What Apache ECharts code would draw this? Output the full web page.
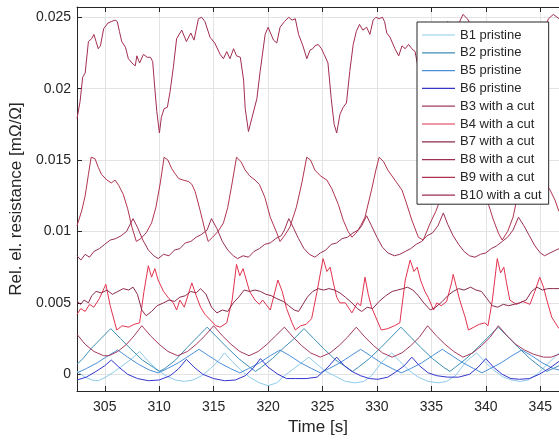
<!DOCTYPE html>
<html>
<head>
<meta charset="utf-8">
<script src="https://cdn.jsdelivr.net/npm/echarts@6/dist/echarts.min.js"></script>
<style>
  html, body { margin: 0; padding: 0; background: #fff; }
  #chart { width: 559px; height: 443px; }
</style>
</head>
<body>
<div id="chart"></div>
<script>
// readings: [time s, rel. resistance mOhm/Ohm]
const b1 = [[302.45,0.0002],[303.2,-0.0002],[303.8,-0.0004],[304.4,-0.00045],[305.1,-0.0002],[305.9,0.0002],[306.8,0.0007],[307.5,0.0011],[308.2,0.0016],[308.9,0.0010],[309.7,0.0004],[310.6,-0.0001],[311.5,-0.0004],[312.3,-0.0005],[313.1,-0.0004],[313.9,-0.0001],[314.7,0.0004],[315.4,0.0009],[316.0,0.0015],[316.7,0.0009],[317.5,0.0003],[318.3,-0.0002],[319.2,-0.0006],[320.0,-0.0008],[320.8,-0.0006],[321.5,-0.0001],[322.2,0.0003],[322.9,0.0007],[323.75,0.0012],[324.5,0.0007],[325.3,0.0002],[326.1,-0.0001],[327.1,-0.0005],[328.0,-0.0006],[328.8,-0.0005],[329.5,-0.0001],[330.4,0.0008],[331.35,0.0015],[332.1,0.0009],[332.9,0.0003],[333.8,-0.0002],[334.7,-0.0005],[335.6,-0.0006],[336.4,-0.0005],[337.2,-0.0001],[338.2,0.0009],[339.15,0.0015],[339.9,0.0009],[340.7,0.0003],[341.6,-0.0002],[342.4,-0.0004],[343.15,-0.0005],[343.9,-0.0004],[344.7,0.0000],[345.5,0.0006],[346.72,0.0015]];

const b2 = [[302.45,0.0007],[303.0,0.0011],[303.75,0.0018],[304.65,0.0025],[305.55,0.0032],[306.45,0.0025],[307.35,0.0018],[308.45,0.0010],[309.45,0.0005],[310.0,0.0002],[310.5,0.0004],[311.5,0.0010],[312.6,0.0019],[313.5,0.0026],[314.4,0.0033],[315.3,0.0026],[316.2,0.0019],[317.3,0.0011],[318.3,0.0005],[318.85,0.0002],[319.4,0.0005],[320.4,0.0011],[321.5,0.0019],[322.4,0.0025],[323.3,0.0032],[324.2,0.0025],[325.1,0.0018],[326.2,0.0010],[327.2,0.0005],[327.75,0.0002],[328.3,0.0005],[329.3,0.0011],[330.4,0.0019],[331.3,0.0026],[332.2,0.0033],[333.1,0.0026],[334.0,0.0019],[335.1,0.0011],[336.1,0.0005],[336.7,0.0002],[337.2,0.0005],[338.2,0.0011],[339.3,0.0019],[340.2,0.0026],[341.15,0.0033],[342.05,0.0026],[342.95,0.0019],[344.05,0.0011],[345.05,0.0005],[345.6,0.0002],[346.72,0.0006]];

const b5 = [[302.45,0.0001],[303.3,0.0004],[304.3,0.0008],[305.3,0.0013],[306.2,0.0017],[307.1,0.0012],[308.1,0.0007],[309.1,0.0003],[309.9,0.0001],[310.75,0.0004],[311.75,0.0008],[312.75,0.0013],[313.65,0.00175],[314.55,0.0013],[315.55,0.0008],[316.55,0.0004],[317.4,0.0001],[318.2,0.0004],[319.2,0.0008],[320.2,0.0013],[321.1,0.0017],[322.0,0.0013],[323.0,0.0008],[324.0,0.0004],[324.8,0.0001],[325.6,0.0004],[326.6,0.0008],[327.6,0.0013],[328.5,0.00175],[329.4,0.0013],[330.4,0.0008],[331.4,0.0004],[332.25,0.0001],[333.1,0.0004],[334.1,0.0008],[335.1,0.0013],[336.0,0.00175],[336.9,0.0013],[337.9,0.0008],[338.9,0.0004],[339.65,0.0001],[340.4,0.0004],[341.4,0.0008],[342.4,0.0013],[343.3,0.0017],[344.2,0.0013],[345.2,0.0008],[346.2,0.0004],[346.72,0.0003]];

const b6 = [[302.45,-0.0004],[303.3,-0.0002],[304.2,0.0002],[305.0,0.0006],[305.6,0.0010],[306.3,0.0005],[307.1,0.0000],[308.0,-0.0003],[309.0,-0.00045],[310.0,-0.0004],[311.0,-0.0001],[311.8,0.0004],[312.5,0.00105],[313.2,0.0005],[314.0,0.0000],[315.0,-0.0003],[316.0,-0.00045],[317.0,-0.0004],[317.9,-0.0001],[318.6,0.0004],[319.3,0.0011],[320.0,0.0005],[320.9,0.0000],[321.7,-0.0003],[322.5,-0.0003],[323.5,-0.0003],[324.5,-0.0002],[325.5,0.0005],[326.3,0.0012],[327.0,0.0006],[327.7,0.0002],[328.5,-0.0001],[329.3,-0.0003],[330.1,-0.00035],[331.0,-0.0002],[331.8,0.0002],[332.5,0.0006],[333.2,0.0012],[333.9,0.0006],[334.7,0.0001],[335.5,-0.0001],[336.5,-0.0002],[337.5,-0.0002],[338.5,0.0000],[339.3,0.0005],[340.0,0.0011],[340.7,0.0005],[341.5,0.0000],[342.3,-0.0003],[343.1,-0.00035],[344.0,-0.0003],[344.9,0.0000],[345.8,0.0004],[346.72,0.0009]];

const b3 = [[302.45,0.0028],[303.2,0.0021],[304.0,0.0016],[304.9,0.0013],[305.4,0.0013],[306.2,0.0016],[307.0,0.0021],[307.7,0.0027],[308.4,0.0034],[309.2,0.0027],[310.0,0.0021],[310.8,0.0016],[311.7,0.0013],[312.6,0.0016],[313.4,0.0021],[314.2,0.0027],[315.0,0.0034],[315.8,0.0027],[316.6,0.0021],[317.4,0.0016],[318.25,0.0013],[319.1,0.0016],[319.9,0.0021],[320.7,0.0027],[321.5,0.0033],[322.3,0.0026],[323.1,0.0020],[323.9,0.0015],[324.8,0.0012],[325.7,0.0015],[326.5,0.0020],[327.3,0.0026],[328.1,0.0033],[328.9,0.0026],[329.7,0.0020],[330.5,0.0015],[331.4,0.0012],[332.3,0.0015],[333.1,0.0020],[333.9,0.0026],[334.65,0.0034],[335.45,0.0027],[336.25,0.0021],[337.05,0.0016],[337.9,0.0012],[338.8,0.0015],[339.6,0.0020],[340.4,0.0026],[341.15,0.0034],[341.95,0.0027],[342.75,0.0021],[343.55,0.0017],[344.4,0.0014],[345.3,0.0012],[346.0,0.0012],[346.72,0.0014]];

const b4 = [[302.45,0.0042],[302.8,0.0046],[303.2,0.0044],[303.6,0.0049],[304.0,0.0047],[304.5,0.0053],[305.1,0.0063],[305.5,0.0048],[306.1,0.0031],[306.6,0.0034],[307.2,0.0033],[307.7,0.0035],[308.2,0.0036],[308.6,0.0058],[309.0,0.0076],[309.3,0.0068],[309.6,0.0074],[309.9,0.0066],[310.4,0.0058],[310.9,0.0053],[311.3,0.0050],[311.6,0.0045],[311.9,0.0052],[312.3,0.0047],[313.0,0.0064],[313.4,0.0055],[313.8,0.0047],[314.2,0.0042],[314.7,0.0038],[315.2,0.0034],[315.6,0.0033],[316.2,0.0036],[316.7,0.0052],[317.1,0.0077],[317.4,0.0069],[317.7,0.0074],[318.0,0.0066],[318.3,0.0058],[318.8,0.0052],[319.2,0.0049],[319.5,0.0052],[319.8,0.0049],[320.2,0.0045],[320.9,0.0066],[321.3,0.0058],[321.7,0.0046],[322.2,0.0036],[322.5,0.0031],[323.0,0.0034],[323.5,0.0035],[324.0,0.0039],[324.5,0.0058],[325.05,0.0081],[325.4,0.0072],[325.7,0.0075],[326.0,0.0064],[326.3,0.0054],[326.6,0.0050],[327.1,0.0050],[327.7,0.0043],[328.2,0.0050],[328.5,0.0048],[328.9,0.0068],[329.2,0.0056],[329.5,0.0047],[330.0,0.0038],[330.4,0.0031],[331.0,0.0032],[331.6,0.0034],[332.1,0.0036],[332.6,0.0066],[333.05,0.0080],[333.4,0.0072],[333.7,0.0075],[334.0,0.0066],[334.4,0.0058],[334.7,0.0054],[335.2,0.0045],[335.5,0.0050],[335.9,0.0048],[336.4,0.0051],[336.85,0.0064],[337.0,0.0070],[337.3,0.0061],[337.6,0.0052],[338.1,0.0040],[338.4,0.0031],[338.9,0.0033],[339.4,0.0035],[339.9,0.0036],[340.2,0.0034],[340.6,0.0052],[341.05,0.0081],[341.35,0.0071],[341.65,0.0075],[341.9,0.0064],[342.2,0.0052],[342.8,0.0049],[343.4,0.0051],[344.05,0.0049],[344.5,0.0058],[344.95,0.0068],[345.3,0.0061],[345.6,0.0052],[346.05,0.0040],[346.72,0.0032]];

const b7 = [[302.45,0.0051],[302.8,0.0049],[303.1,0.0052],[303.5,0.0050],[303.8,0.0055],[304.2,0.0058],[304.7,0.0057],[305.2,0.0059],[305.7,0.0056],[306.2,0.0058],[306.7,0.0060],[307.2,0.0059],[307.6,0.0061],[308.0,0.0056],[308.4,0.0045],[308.8,0.0041],[309.3,0.0044],[309.8,0.0048],[310.4,0.0050],[310.9,0.0052],[311.4,0.0051],[311.9,0.0054],[312.4,0.0055],[312.9,0.0058],[313.4,0.0057],[313.8,0.0060],[314.3,0.0056],[314.8,0.0047],[315.3,0.0043],[315.8,0.0045],[316.3,0.0044],[316.8,0.0050],[317.3,0.0054],[317.8,0.0059],[318.3,0.0058],[318.8,0.0059],[319.3,0.0058],[319.8,0.0056],[320.3,0.0055],[320.8,0.0053],[321.4,0.0051],[321.9,0.0048],[322.4,0.0045],[322.8,0.0044],[323.2,0.0049],[323.6,0.0054],[324.1,0.0058],[324.6,0.0060],[325.1,0.0059],[325.6,0.0060],[326.1,0.0059],[326.6,0.0057],[327.1,0.0054],[327.7,0.0050],[328.2,0.0046],[328.6,0.0044],[329.1,0.0047],[329.6,0.0046],[330.2,0.0051],[330.8,0.0055],[331.4,0.0058],[331.9,0.0059],[332.4,0.0060],[332.8,0.0061],[333.3,0.0059],[333.8,0.0055],[334.3,0.0050],[334.9,0.0045],[335.4,0.0047],[336.0,0.0051],[336.5,0.0055],[337.0,0.0058],[337.5,0.0060],[338.0,0.0059],[338.6,0.0061],[339.1,0.0059],[339.6,0.0058],[340.1,0.0053],[340.6,0.0048],[341.1,0.0047],[341.6,0.0049],[342.1,0.0048],[342.6,0.0049],[343.1,0.0050],[343.7,0.0052],[344.2,0.0058],[344.7,0.0061],[345.2,0.0059],[345.7,0.0060],[346.2,0.0060],[346.72,0.0060]];

const b8 = [[302.45,0.0083],[302.8,0.0080],[303.2,0.0084],[303.6,0.0082],[304.0,0.0086],[304.5,0.0088],[305.0,0.0091],[305.5,0.0094],[306.0,0.0095],[306.5,0.0097],[307.0,0.0100],[307.6,0.0109],[308.0,0.0103],[308.5,0.0094],[309.0,0.0087],[309.5,0.0083],[309.9,0.0081],[310.4,0.0084],[310.9,0.0083],[311.4,0.0087],[311.9,0.0088],[312.4,0.0092],[312.9,0.0093],[313.4,0.0096],[313.9,0.0098],[314.4,0.0101],[314.8,0.0109],[315.3,0.0102],[315.8,0.0093],[316.3,0.0087],[316.8,0.0083],[317.2,0.0081],[317.7,0.0083],[318.2,0.0082],[318.7,0.0086],[319.2,0.0088],[319.7,0.0091],[320.2,0.0092],[320.7,0.0095],[321.2,0.0097],[321.5,0.0101],[321.9,0.0109],[322.3,0.0103],[322.8,0.0095],[323.3,0.0088],[323.8,0.0084],[324.3,0.0082],[324.8,0.0085],[325.3,0.0087],[325.8,0.0091],[326.3,0.0092],[326.8,0.0095],[327.3,0.0096],[327.8,0.0099],[328.3,0.0101],[328.6,0.0104],[329.05,0.0111],[329.5,0.0104],[330.0,0.0096],[330.5,0.0089],[331.0,0.0085],[331.6,0.0083],[332.1,0.0084],[332.6,0.0086],[333.1,0.0088],[333.6,0.0091],[334.1,0.0093],[334.6,0.0097],[335.1,0.0099],[335.6,0.0104],[336.1,0.0113],[336.5,0.0105],[337.0,0.0097],[337.5,0.0091],[338.0,0.0086],[338.5,0.0083],[339.0,0.0082],[339.5,0.0084],[340.0,0.0085],[340.5,0.0088],[341.0,0.0090],[341.5,0.0093],[342.0,0.0096],[342.5,0.0101],[343.0,0.0110],[343.5,0.0104],[344.0,0.0097],[344.5,0.0090],[345.0,0.0085],[345.4,0.0083],[345.9,0.0085],[346.72,0.0088]];

const b9 = [[302.45,0.0104],[302.9,0.0115],[303.2,0.0125],[303.5,0.0140],[303.75,0.0152],[304.1,0.0151],[304.4,0.0145],[304.7,0.0140],[305.2,0.0136],[305.6,0.0134],[305.95,0.0136],[306.3,0.0132],[306.7,0.0126],[307.1,0.0116],[307.5,0.0103],[307.9,0.0093],[308.3,0.0095],[308.8,0.0099],[309.3,0.0106],[309.7,0.0117],[310.1,0.0134],[310.45,0.0152],[310.8,0.0150],[311.15,0.0144],[311.5,0.0140],[311.8,0.0137],[312.2,0.0136],[312.7,0.0135],[313.0,0.0133],[313.3,0.0128],[313.75,0.0115],[314.2,0.0101],[314.5,0.0093],[314.9,0.0096],[315.4,0.0100],[315.9,0.0106],[316.3,0.0117],[316.7,0.0134],[317.1,0.0152],[317.5,0.0149],[317.9,0.0143],[318.3,0.0139],[318.8,0.0136],[319.2,0.0133],[319.7,0.0124],[320.2,0.0110],[320.8,0.0099],[321.1,0.0093],[321.5,0.0097],[322.0,0.0103],[322.6,0.0117],[323.1,0.0134],[323.55,0.0152],[323.9,0.0150],[324.3,0.0143],[324.8,0.0139],[325.4,0.0136],[325.85,0.0130],[326.45,0.0119],[326.9,0.0108],[327.35,0.0100],[327.7,0.0096],[328.1,0.0099],[328.5,0.0104],[328.9,0.0110],[329.5,0.0129],[329.9,0.0143],[330.2,0.0152],[330.6,0.0149],[331.0,0.0143],[331.65,0.0136],[332.3,0.0129],[332.7,0.0120],[333.2,0.0108],[333.8,0.0096],[334.25,0.0094],[334.9,0.0106],[335.4,0.0114],[335.9,0.0124],[336.4,0.0138],[336.85,0.0152],[337.2,0.0150],[337.6,0.0144],[338.1,0.0139],[338.6,0.0136],[339.1,0.0134],[339.6,0.0128],[340.2,0.0120],[340.7,0.0108],[341.15,0.0099],[341.5,0.0094],[342.0,0.0100],[342.5,0.0110],[343.0,0.0128],[343.5,0.0151],[343.9,0.0149],[344.4,0.0143],[344.9,0.0139],[345.4,0.0135],[345.9,0.0129],[346.35,0.0122],[346.72,0.0114]];

const b10 = [[302.45,0.0179],[302.73,0.0191],[302.97,0.0208],[303.2,0.0211],[303.5,0.0233],[303.8,0.0235],[304.0,0.0238],[304.2,0.0233],[304.4,0.0228],[304.6,0.0230],[304.9,0.0242],[305.1,0.0244],[305.3,0.0246],[305.6,0.0247],[305.95,0.0248],[306.15,0.0247],[306.35,0.0240],[306.56,0.0233],[306.9,0.0229],[307.17,0.0221],[307.5,0.0218],[307.8,0.0216],[307.95,0.0223],[308.2,0.0218],[308.55,0.0224],[308.9,0.0222],[309.2,0.0222],[309.4,0.0219],[309.6,0.0200],[309.78,0.0184],[310.02,0.0169],[310.2,0.0180],[310.45,0.0186],[310.75,0.0187],[311.0,0.0198],[311.3,0.0215],[311.6,0.0235],[312.07,0.0241],[312.5,0.0233],[312.9,0.0239],[313.2,0.0234],[313.6,0.0249],[313.9,0.0250],[314.2,0.0247],[314.67,0.0236],[315.1,0.0232],[315.6,0.0224],[315.9,0.0221],[316.2,0.0226],[316.5,0.0221],[316.83,0.0228],[317.1,0.0223],[317.45,0.0222],[317.75,0.0206],[317.9,0.0186],[318.2,0.0170],[318.5,0.0179],[318.97,0.0193],[319.27,0.0212],[319.73,0.0238],[320.0,0.0243],[320.5,0.0234],[320.8,0.0232],[321.1,0.0243],[321.5,0.0247],[321.9,0.0250],[322.2,0.0248],[322.5,0.0249],[322.8,0.0238],[323.2,0.0230],[323.56,0.0221],[323.85,0.0227],[324.1,0.0228],[324.3,0.0230],[324.6,0.0231],[324.9,0.0228],[325.15,0.0224],[325.5,0.0218],[325.8,0.0193],[326.07,0.0175],[326.3,0.0169],[326.6,0.0182],[326.9,0.0187],[327.2,0.0190],[327.5,0.0212],[327.82,0.0231],[328.1,0.0240],[328.4,0.0245],[328.7,0.0241],[329.05,0.0243],[329.35,0.0238],[329.65,0.0248],[329.9,0.0250],[330.2,0.0249],[330.5,0.0250],[330.7,0.0247],[330.9,0.0239],[331.2,0.0236],[331.65,0.0228],[332.0,0.0223],[332.3,0.0230],[332.6,0.0228],[332.9,0.0231],[333.2,0.0228],[333.5,0.0226],[333.9,0.0210],[334.2,0.0185],[334.45,0.0170],[334.8,0.0183],[335.1,0.0188],[335.5,0.0200],[335.8,0.0222],[336.2,0.0240],[336.5,0.0247],[336.9,0.0238],[337.3,0.0242],[337.9,0.0252],[338.3,0.0249],[338.7,0.0244],[339.2,0.0236],[339.7,0.0229],[340.2,0.0223],[340.6,0.0228],[341.0,0.0224],[341.4,0.0229],[341.8,0.0224],[342.1,0.0205],[342.35,0.0184],[342.6,0.0170],[342.9,0.0181],[343.2,0.0187],[343.6,0.0199],[343.9,0.0216],[344.2,0.0236],[344.6,0.0241],[345.0,0.0235],[345.4,0.0242],[345.75,0.0249],[346.2,0.0252],[346.72,0.0249]];

const seriesNames = ['B1 pristine', 'B2 pristine', 'B5 pristine', 'B6 pristine',
    'B3 with a cut', 'B4 with a cut', 'B7 with a cut', 'B8 with a cut', 'B9 with a cut', 'B10 with a cut'];
const seriesData = [b1, b2, b5, b6, b3, b4, b7, b8, b9, b10];
const seriesColors = ['#8ecbea', '#3c8fb4', '#4a8fd8', '#3535cc',
    '#a43a5e', '#e2324f', '#8c2a4b', '#9c2f52', '#b0344f', '#a22d4f'];

const timeRange = [302.45, 346.72];
const valueRange = [-0.00117, 0.02572];

const font = 'Liberation Sans, Arial, Helvetica, sans-serif';

let chart = echarts.init(document.getElementById('chart'));

let series = seriesNames.map(function (name, i) {
    return {
        name: name,
        type: 'line',
        data: seriesData[i],
        symbol: 'none',
        showSymbol: false,
        lineStyle: {width: 1, color: seriesColors[i]},
        itemStyle: {color: seriesColors[i]},
        emphasis: {disabled: true}
    };
});

let option = {
    animation: false,
    backgroundColor: '#fff',
    grid: {left: 77, right: 0, top: 7, bottom: 52},
    legend: {
        orient: 'vertical',
        left: 417,
        top: 22,
        padding: [6, 7, 2, 5],
        icon: 'rect',
        itemWidth: 33,
        itemHeight: 1.2,
        itemGap: 3.8,
        backgroundColor: '#fff',
        borderColor: '#262626',
        borderWidth: 1,
        borderRadius: 0,
        data: seriesNames,
        textStyle: {fontSize: 13, lineHeight: 14, color: '#262626', fontFamily: font}
    },
    xAxis: [
        {
            type: 'value',
            min: timeRange[0],
            max: timeRange[1],
            splitNumber: 9,
            name: 'Time [s]',
            nameLocation: 'middle',
            nameGap: 28,
            nameTextStyle: {fontSize: 17, color: '#262626', fontFamily: font},
            axisLine: {onZero: false, lineStyle: {color: '#262626', width: 1}},
            axisTick: {inside: true, length: 5, lineStyle: {color: '#262626'}},
            axisLabel: {fontSize: 14, color: '#262626', margin: 9, fontFamily: font,
                showMinLabel: false, showMaxLabel: false},
            splitLine: {show: true, showMaxLine: false, lineStyle: {color: '#e3e3e3', width: 1}}
        },
        {
            type: 'value',
            position: 'top',
            min: timeRange[0],
            max: timeRange[1],
            splitNumber: 9,
            axisLine: {onZero: false, lineStyle: {color: '#262626', width: 1}},
            axisTick: {inside: true, length: 5, lineStyle: {color: '#262626'}},
            axisLabel: {show: false},
            splitLine: {show: false}
        }
    ],
    yAxis: {
        type: 'value',
        min: valueRange[0],
        max: valueRange[1],
        splitNumber: 5,
        name: 'Rel. el. resistance [m\u03A9/\u03A9]',
        nameLocation: 'middle',
        nameGap: 49,
        nameTextStyle: {fontSize: 17, color: '#262626', fontFamily: font},
        axisLine: {show: true, onZero: false, lineStyle: {color: '#262626', width: 1}},
        axisTick: {show: true, inside: true, length: 5, lineStyle: {color: '#262626'}},
        axisLabel: {fontSize: 14, color: '#262626', margin: 6, fontFamily: font,
            showMinLabel: false, showMaxLabel: false},
        splitLine: {show: true, lineStyle: {color: '#e3e3e3', width: 1}}
    },
    series: series
};

chart.setOption(option);
</script>
</body>
</html>
